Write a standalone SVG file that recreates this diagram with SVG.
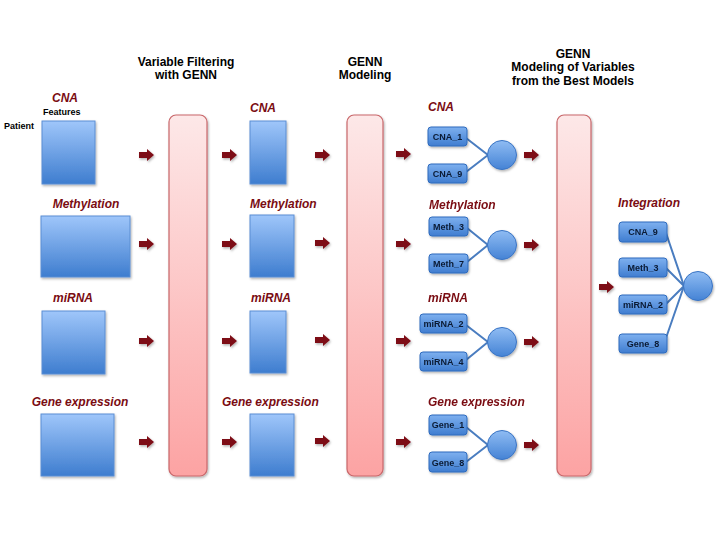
<svg xmlns="http://www.w3.org/2000/svg" xmlns:xlink="http://www.w3.org/1999/xlink" width="720" height="540" viewBox="0 0 720 540">
<defs>
<linearGradient id="gBlue" x1="0" y1="0" x2="0" y2="1"><stop offset="0" stop-color="#9fc6fa"/><stop offset="1" stop-color="#3e7dcf"/></linearGradient>
<linearGradient id="gNode" x1="0" y1="0" x2="0" y2="1"><stop offset="0" stop-color="#7eb0ef"/><stop offset="1" stop-color="#3f7dd0"/></linearGradient>
<linearGradient id="gCirc" x1="0" y1="0" x2="0" y2="1"><stop offset="0" stop-color="#8fbcf3"/><stop offset="1" stop-color="#4583d5"/></linearGradient>
<linearGradient id="gPink" x1="0" y1="0" x2="0" y2="1"><stop offset="0" stop-color="#fde8e8"/><stop offset="1" stop-color="#fca3a3"/></linearGradient>
<filter id="sh" x="-20%" y="-20%" width="150%" height="150%"><feDropShadow dx="1" dy="1.5" stdDeviation="1" flood-color="#000" flood-opacity="0.3"/></filter>
<path id="arr" d="M0,-3 H8 V-6 L15,0 L8,6 V3 H0 Z"/>
</defs>
<style>
.t{font-family:"Liberation Sans",Arial,sans-serif;font-weight:bold;font-size:12px;fill:#000;text-anchor:middle}
.lab{font-family:"Liberation Sans",Arial,sans-serif;font-weight:bold;font-style:italic;font-size:12px;fill:#7a0c12}
.sm{font-family:"Liberation Sans",Arial,sans-serif;font-weight:bold;font-size:9px;fill:#000}
.nt{font-family:"Liberation Sans",Arial,sans-serif;font-weight:bold;font-size:9px;fill:#0a1a33;text-anchor:middle}
.box{fill:url(#gBlue);stroke:#5b8ed3;stroke-width:1;filter:url(#sh)}
.node{fill:url(#gNode);stroke:#2f6bbd;stroke-width:1;filter:url(#sh)}
.circ{fill:url(#gCirc);stroke:#3a74c4;stroke-width:1;filter:url(#sh)}
.bar{fill:url(#gPink);stroke:#c9676a;stroke-width:1.2;filter:url(#sh)}
.ar{fill:#7d0b15;filter:url(#sh)}
.ln{stroke:#4a7dc0;stroke-width:2;fill:none}
</style>
<rect width="720" height="540" fill="#fff"/>

<g id="titles">
<text class="t" x="186" y="66">Variable Filtering</text>
<text class="t" x="186" y="79">with GENN</text>
<text class="t" x="365" y="66">GENN</text>
<text class="t" x="365" y="79">Modeling</text>
<text class="t" x="573" y="58">GENN</text>
<text class="t" x="573" y="71">Modeling of Variables</text>
<text class="t" x="573" y="85">from the Best Models</text>
</g>

<g id="input">
<text class="lab" x="65" y="102" text-anchor="middle">CNA</text>
<text class="sm" x="43" y="115">Features</text>
<text class="sm" x="4" y="129">Patient</text>
<rect class="box" x="42" y="121" width="53" height="63"/>
<text class="lab" x="86" y="208" text-anchor="middle">Methylation</text>
<rect class="box" x="41" y="216" width="89" height="61"/>
<text class="lab" x="73" y="302" text-anchor="middle">miRNA</text>
<rect class="box" x="42" y="311" width="63" height="63"/>
<text class="lab" x="80" y="406" text-anchor="middle">Gene expression</text>
<rect class="box" x="41" y="414" width="73" height="62"/>
</g>

<g id="bar1"><rect class="bar" x="169" y="115" width="38" height="361" rx="7"/></g>

<g id="filtered">
<text class="lab" x="250" y="112">CNA</text>
<rect class="box" x="250" y="121" width="36" height="63"/>
<text class="lab" x="250" y="208">Methylation</text>
<rect class="box" x="250" y="215" width="44" height="62"/>
<text class="lab" x="251" y="302">miRNA</text>
<rect class="box" x="250" y="311" width="36" height="62"/>
<text class="lab" x="222" y="406">Gene expression</text>
<rect class="box" x="250" y="414" width="44" height="62"/>
</g>

<g id="bar2"><rect class="bar" x="347" y="115" width="36" height="361" rx="7"/></g>

<g id="connectors">
<path class="ln" d="M466,138 L488,155 M466,172 L488,155"/>
<path class="ln" d="M467,228 L488,245 M467,262 L488,245"/>
<path class="ln" d="M466,325 L488,342 M466,360 L488,342"/>
<path class="ln" d="M466,427 L488,445 M466,462 L488,445"/>
<path class="ln" d="M666,233 L684,286 M666,268 L684,286 M666,304 L684,286 M666,338 L684,286"/>
<g class="ar">
<use xlink:href="#arr" x="139" y="155"/><use xlink:href="#arr" x="139" y="244"/><use xlink:href="#arr" x="139" y="341"/><use xlink:href="#arr" x="139" y="442"/>
<use xlink:href="#arr" x="222" y="155"/><use xlink:href="#arr" x="222" y="244"/><use xlink:href="#arr" x="222" y="341"/><use xlink:href="#arr" x="222" y="442"/>
<use xlink:href="#arr" x="315" y="155"/><use xlink:href="#arr" x="315" y="243"/><use xlink:href="#arr" x="315" y="340"/><use xlink:href="#arr" x="315" y="441"/>
<use xlink:href="#arr" x="396" y="154"/><use xlink:href="#arr" x="396" y="244"/><use xlink:href="#arr" x="396" y="341"/><use xlink:href="#arr" x="396" y="442"/>
<use xlink:href="#arr" x="524" y="155"/><use xlink:href="#arr" x="524" y="245"/><use xlink:href="#arr" x="524" y="342"/><use xlink:href="#arr" x="524" y="445"/>
<use xlink:href="#arr" x="599" y="287"/>
</g>
</g>

<g id="model-cna">
<text class="lab" x="428" y="111">CNA</text>
<rect class="node" x="428" y="127" width="39" height="19" rx="3"/><text class="nt" x="447.5" y="140">CNA_1</text>
<rect class="node" x="428" y="164" width="39" height="19" rx="3"/><text class="nt" x="447.5" y="177">CNA_9</text>
<circle class="circ" cx="502" cy="155" r="14.5"/>
</g>
<g id="model-meth">
<text class="lab" x="429" y="209">Methylation</text>
<rect class="node" x="429" y="217" width="39" height="19" rx="3"/><text class="nt" x="448.5" y="230">Meth_3</text>
<rect class="node" x="429" y="254" width="39" height="19" rx="3"/><text class="nt" x="448.5" y="267">Meth_7</text>
<circle class="circ" cx="502" cy="245" r="14.5"/>
</g>
<g id="model-mirna">
<text class="lab" x="428" y="302">miRNA</text>
<rect class="node" x="420" y="314" width="47" height="19" rx="3"/><text class="nt" x="443.5" y="327">miRNA_2</text>
<rect class="node" x="420" y="352" width="47" height="19" rx="3"/><text class="nt" x="443.5" y="365">miRNA_4</text>
<circle class="circ" cx="502" cy="342" r="14.5"/>
</g>
<g id="model-gene">
<text class="lab" x="428" y="406">Gene expression</text>
<rect class="node" x="429" y="415" width="38" height="20" rx="3"/><text class="nt" x="448" y="428">Gene_1</text>
<rect class="node" x="429" y="452" width="38" height="20" rx="3"/><text class="nt" x="448" y="466">Gene_8</text>
<circle class="circ" cx="502" cy="445" r="14.5"/>
</g>

<g id="bar3"><rect class="bar" x="557" y="115" width="34" height="361" rx="7"/></g>

<g id="integration">
<text class="lab" x="618" y="207">Integration</text>
<rect class="node" x="619" y="222" width="48" height="20" rx="3"/><text class="nt" x="643" y="235">CNA_9</text>
<rect class="node" x="619" y="258" width="48" height="19" rx="3"/><text class="nt" x="643" y="271">Meth_3</text>
<rect class="node" x="619" y="295" width="48" height="19" rx="3"/><text class="nt" x="643" y="308">miRNA_2</text>
<rect class="node" x="619" y="334" width="48" height="19" rx="3"/><text class="nt" x="643" y="347">Gene_8</text>
<circle class="circ" cx="698" cy="286" r="14.5"/>
</g>
</svg>
